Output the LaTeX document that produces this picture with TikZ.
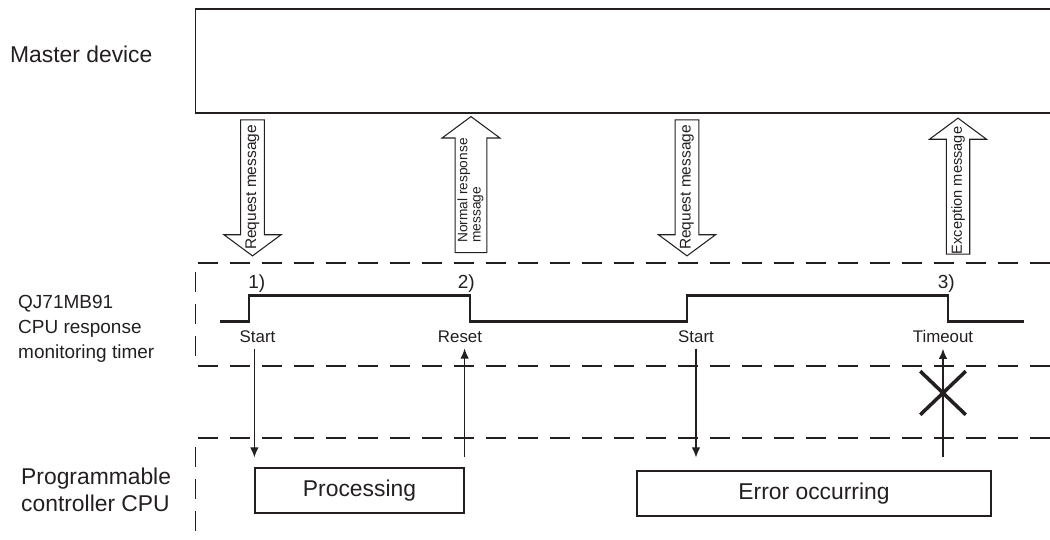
\documentclass[tikz,border=0pt]{standalone}
\usepackage{fontspec}
\setmainfont{Liberation Sans}
\usetikzlibrary{shapes.arrows,shapes.misc,arrows.meta}
\definecolor{ink}{HTML}{231F20}

\begin{document}
\begin{tikzpicture}[
    side/.style={anchor=west, align=left, text=ink},
    msg/.style={single arrow, draw=ink, line width=0.6pt, rotate=90, minimum height=2.72cm, minimum width=1.14cm, single arrow head extend=0.26cm, single arrow tip angle=107, inner sep=1pt, text=ink, font=\fontsize{8.8}{8.8}\selectfont},
    down/.style={msg, shape border rotate=180},
    zone/.style={draw=ink, line width=0.8pt, dash pattern=on 0.4cm off 0.24cm},
    signal/.style={draw=ink, line width=1.7pt},
    event/.style={text=ink, font=\fontsize{9.6}{9.6}\selectfont},
    tag/.style={text=ink, anchor=south west, inner sep=0pt, font=\fontsize{10.8}{10.8}\selectfont},
    task/.style={rectangle, draw=ink, line width=0.7pt, minimum height=0.9cm, text=ink, font=\fontsize{13}{13}\selectfont},
    line/.style={draw=ink, -{Latex[length=5.7pt,width=4.8pt]}, line width=0.6pt}
    ]
    \useasboundingbox (0,0) rectangle (21,10.8);

    % left column
    \node [side, font=\fontsize{13}{13}\selectfont] (master) at (0.08,9.72) {Master device};
    \node [side, font=\fontsize{10.8}{14.2}\selectfont] (timer) at (0.24,4.23) {QJ71MB91\\CPU response\\monitoring timer};
    \node [side, font=\fontsize{13}{15.3}\selectfont] (plc) at (0.3,1.0) {Programmable\\controller CPU};

    % frames
    \draw [draw=ink, line width=0.85pt] (21,10.62) -| (3.91,8.54) -- (21,8.54);
    \draw [zone] (21,5.54) -| (3.91,3.48) -- (21,3.48);
    \draw [zone] (21,2.04) -| (3.91,0);

    % messages
    \node [down] (req1) at (5.05,7.13) {\makebox[0pt]{\hspace*{-0.16cm}Request message}};
    \node [msg, font=\fontsize{7.8}{7.6}\selectfont] (resp) at (9.42,6.99) {\makebox[0pt]{\begin{tabular}{@{}l@{}}Normal response\\message\end{tabular}}};
    \node [down] (req2) at (13.74,7.13) {\makebox[0pt]{\hspace*{-0.16cm}Request message}};
    \node [msg, font=\fontsize{8.3}{8.3}\selectfont] (exc) at (19.16,6.99) {\makebox[0pt]{Exception message}};

    % timer signal
    \draw [signal] (4.4,4.36) -- (4.98,4.36) -- (4.98,4.88) -- (9.4,4.88) -- (9.4,4.36) -- (13.74,4.36) -- (13.74,4.88) -- (18.96,4.88) -- (18.96,4.36) -- (20.48,4.36);
    \node [tag] (n1) at (4.96,4.94) {1)};
    \node [tag] (n2) at (9.15,4.94) {2)};
    \node [tag] (n3) at (18.75,4.94) {3)};
    \node [event] (st1) at (5.15,4.07) {Start};
    \node [event] (rs) at (9.2,4.07) {Reset};
    \node [event] (st2) at (13.92,4.07) {Start};
    \node [event] (to) at (18.86,4.07) {Timeout};

    % CPU side
    \node [task, minimum width=4.18cm] (proc) at (7.19,0.99) {Processing};
    \node [task, minimum width=7.08cm] (err) at (16.28,0.93) {Error occurring};
    \node [cross out, draw=ink, line width=2pt, minimum width=0.84cm, minimum height=0.8cm] (nox) at (18.86,2.94) {};

    \draw [line, shorten >=0.2cm] (proc.north west |- st1.south) -- (proc.north west);
    \draw [line, shorten <=0.2cm] (proc.north east) -- (proc.north east |- rs.south);
    \draw [line, shorten >=0.26cm] (st2.south) -- (st2.south |- err.north);
    \draw [line, shorten <=0.26cm] (to.south |- err.north) -- (to.south);
\end{tikzpicture}
\end{document}
